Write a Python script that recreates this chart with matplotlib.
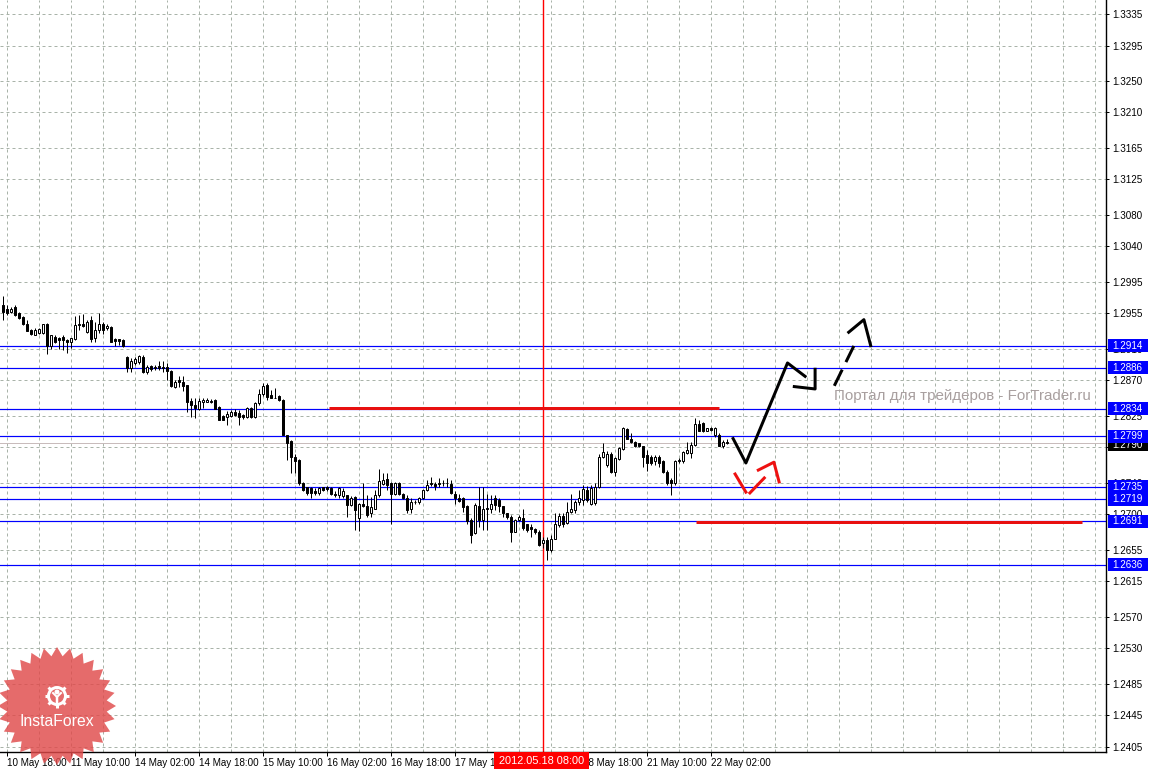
import numpy as np
import matplotlib
matplotlib.use("Agg")
import matplotlib.pyplot as plt
from matplotlib.patches import Rectangle, Polygon, Circle

plt.rcParams['font.family'] = ['Liberation Sans', 'DejaVu Sans']

# EURUSD H1, 10 May 17:00 .. 22 May 06:00 (bar index = position on the chart)
opens = [1.2966, 1.2961, 1.2957, 1.2963, 1.2956, 1.2950, 1.2942, 1.2934, 1.2928, 1.2930,
         1.2930, 1.2942, 1.2913, 1.2925, 1.2924, 1.2925, 1.2921, 1.2918, 1.2923, 1.2940,
         1.2941, 1.2931, 1.2946, 1.2924, 1.2934, 1.2942, 1.2936, 1.2938, 1.2922, 1.2922,
         1.2921, 1.2900, 1.2885, 1.2892, 1.2893, 1.2900, 1.2881, 1.2888, 1.2885, 1.2888,
         1.2887, 1.2887, 1.2882, 1.2862, 1.2870, 1.2868, 1.2864, 1.2844, 1.2838, 1.2834,
         1.2843, 1.2843, 1.2843, 1.2845, 1.2836, 1.2825, 1.2824, 1.2825, 1.2830, 1.2828,
         1.2826, 1.2823, 1.2835, 1.2823, 1.2841, 1.2852, 1.2864, 1.2851, 1.2848, 1.2850,
         1.2845, 1.2801, 1.2793, 1.2773, 1.2769, 1.2739, 1.2734, 1.2733, 1.2730, 1.2727,
         1.2734, 1.2734, 1.2733, 1.2726, 1.2725, 1.2723, 1.2724, 1.2712, 1.2722, 1.2695,
         1.2713, 1.2711, 1.2701, 1.2707, 1.2724, 1.2738, 1.2745, 1.2740, 1.2726, 1.2739,
         1.2726, 1.2721, 1.2706, 1.2715, 1.2715, 1.2720, 1.2731, 1.2740, 1.2738, 1.2738,
         1.2740, 1.2740, 1.2738, 1.2726, 1.2721, 1.2720, 1.2711, 1.2693, 1.2676, 1.2711,
         1.2693, 1.2708, 1.2706, 1.2720, 1.2718, 1.2710, 1.2701, 1.2697, 1.2678, 1.2693,
         1.2695, 1.2687, 1.2684, 1.2681, 1.2678, 1.2663, 1.2667, 1.2654, 1.2669, 1.2686,
         1.2698, 1.2689, 1.2703, 1.2705, 1.2715, 1.2718, 1.2731, 1.2713, 1.2714, 1.2734,
         1.2772, 1.2762, 1.2777, 1.2753, 1.2770, 1.2783, 1.2808, 1.2796, 1.2792, 1.2790,
         1.2786, 1.2775, 1.2773, 1.2767, 1.2773, 1.2768, 1.2753, 1.2743, 1.2739, 1.2767,
         1.2767, 1.2778, 1.2778, 1.2788, 1.2815, 1.2816, 1.2806, 1.2810, 1.2801, 1.2801,
         1.2786, 1.2792]
highs = [1.2977, 1.2965, 1.2963, 1.2965, 1.2957, 1.2951, 1.2946, 1.2935, 1.2936, 1.2937,
         1.2942, 1.2943, 1.2928, 1.2927, 1.2925, 1.2928, 1.2923, 1.2924, 1.2951, 1.2953,
         1.2954, 1.2946, 1.2951, 1.2944, 1.2955, 1.2944, 1.2941, 1.2939, 1.2924, 1.2923,
         1.2922, 1.2901, 1.2898, 1.2899, 1.2902, 1.2902, 1.2889, 1.2890, 1.2889, 1.2894,
         1.2894, 1.2892, 1.2883, 1.2870, 1.2875, 1.2875, 1.2864, 1.2848, 1.2848, 1.2847,
         1.2848, 1.2847, 1.2846, 1.2846, 1.2837, 1.2826, 1.2831, 1.2832, 1.2834, 1.2832,
         1.2827, 1.2836, 1.2836, 1.2842, 1.2859, 1.2867, 1.2866, 1.2858, 1.2860, 1.2851,
         1.2846, 1.2801, 1.2794, 1.2777, 1.2770, 1.2741, 1.2735, 1.2734, 1.2733, 1.2735,
         1.2735, 1.2736, 1.2735, 1.2729, 1.2734, 1.2733, 1.2725, 1.2723, 1.2723, 1.2714,
         1.2739, 1.2724, 1.2722, 1.2731, 1.2757, 1.2752, 1.2752, 1.2741, 1.2741, 1.2741,
         1.2727, 1.2724, 1.2720, 1.2718, 1.2722, 1.2732, 1.2744, 1.2747, 1.2741, 1.2746,
         1.2743, 1.2746, 1.2743, 1.2730, 1.2726, 1.2722, 1.2712, 1.2695, 1.2714, 1.2734,
         1.2734, 1.2726, 1.2725, 1.2725, 1.2720, 1.2711, 1.2702, 1.2699, 1.2694, 1.2699,
         1.2706, 1.2688, 1.2688, 1.2683, 1.2680, 1.2671, 1.2671, 1.2674, 1.2701, 1.2701,
         1.2701, 1.2716, 1.2726, 1.2718, 1.2731, 1.2737, 1.2736, 1.2737, 1.2740, 1.2777,
         1.2791, 1.2780, 1.2779, 1.2772, 1.2785, 1.2811, 1.2810, 1.2803, 1.2793, 1.2791,
         1.2786, 1.2782, 1.2775, 1.2775, 1.2775, 1.2769, 1.2756, 1.2746, 1.2769, 1.2771,
         1.2780, 1.2792, 1.2792, 1.2822, 1.2820, 1.2817, 1.2810, 1.2811, 1.2811, 1.2803,
         1.2794, 1.2795]
lows = [1.2947, 1.2953, 1.2955, 1.2952, 1.2948, 1.2940, 1.2932, 1.2928, 1.2927, 1.2929,
        1.2929, 1.2904, 1.2910, 1.2917, 1.2910, 1.2909, 1.2905, 1.2911, 1.2921, 1.2934,
        1.2938, 1.2930, 1.2918, 1.2918, 1.2930, 1.2929, 1.2934, 1.2918, 1.2913, 1.2915,
        1.2912, 1.2880, 1.2880, 1.2890, 1.2891, 1.2879, 1.2878, 1.2882, 1.2883, 1.2883,
        1.2881, 1.2871, 1.2862, 1.2860, 1.2862, 1.2856, 1.2830, 1.2824, 1.2822, 1.2832,
        1.2835, 1.2842, 1.2841, 1.2833, 1.2819, 1.2819, 1.2813, 1.2823, 1.2825, 1.2813,
        1.2821, 1.2822, 1.2822, 1.2822, 1.2839, 1.2850, 1.2845, 1.2847, 1.2847, 1.2844,
        1.2800, 1.2769, 1.2752, 1.2752, 1.2737, 1.2729, 1.2725, 1.2720, 1.2725, 1.2725,
        1.2729, 1.2730, 1.2725, 1.2722, 1.2720, 1.2721, 1.2697, 1.2710, 1.2680, 1.2679,
        1.2709, 1.2697, 1.2697, 1.2706, 1.2722, 1.2737, 1.2731, 1.2688, 1.2724, 1.2724,
        1.2719, 1.2701, 1.2701, 1.2713, 1.2713, 1.2719, 1.2729, 1.2736, 1.2731, 1.2734,
        1.2736, 1.2735, 1.2726, 1.2713, 1.2716, 1.2703, 1.2688, 1.2663, 1.2675, 1.2684,
        1.2680, 1.2680, 1.2701, 1.2705, 1.2703, 1.2697, 1.2694, 1.2665, 1.2677, 1.2691,
        1.2680, 1.2678, 1.2671, 1.2675, 1.2659, 1.2657, 1.2642, 1.2652, 1.2668, 1.2684,
        1.2684, 1.2688, 1.2701, 1.2701, 1.2712, 1.2712, 1.2716, 1.2712, 1.2712, 1.2733,
        1.2771, 1.2760, 1.2752, 1.2748, 1.2769, 1.2781, 1.2795, 1.2790, 1.2785, 1.2785,
        1.2760, 1.2755, 1.2763, 1.2763, 1.2760, 1.2752, 1.2737, 1.2724, 1.2737, 1.2765,
        1.2765, 1.2776, 1.2771, 1.2786, 1.2805, 1.2804, 1.2805, 1.2806, 1.2798, 1.2786,
        1.2784, 1.2789]
closes = [1.2957, 1.2956, 1.2960, 1.2953, 1.2949, 1.2941, 1.2933, 1.2929, 1.2934, 1.2935,
          1.2941, 1.2913, 1.2927, 1.2919, 1.2921, 1.2921, 1.2918, 1.2924, 1.2940, 1.2942,
          1.2939, 1.2944, 1.2923, 1.2934, 1.2942, 1.2934, 1.2939, 1.2919, 1.2920, 1.2920,
          1.2913, 1.2885, 1.2894, 1.2897, 1.2901, 1.2881, 1.2887, 1.2884, 1.2887, 1.2885,
          1.2885, 1.2882, 1.2863, 1.2868, 1.2868, 1.2863, 1.2843, 1.2838, 1.2835, 1.2844,
          1.2845, 1.2845, 1.2844, 1.2834, 1.2820, 1.2820, 1.2827, 1.2830, 1.2826, 1.2823,
          1.2823, 1.2835, 1.2823, 1.2841, 1.2853, 1.2863, 1.2849, 1.2848, 1.2847, 1.2845,
          1.2801, 1.2791, 1.2773, 1.2767, 1.2739, 1.2731, 1.2727, 1.2727, 1.2727, 1.2733,
          1.2731, 1.2732, 1.2726, 1.2725, 1.2733, 1.2730, 1.2712, 1.2721, 1.2705, 1.2713,
          1.2710, 1.2699, 1.2709, 1.2724, 1.2742, 1.2744, 1.2737, 1.2726, 1.2740, 1.2726,
          1.2720, 1.2705, 1.2715, 1.2716, 1.2720, 1.2731, 1.2737, 1.2738, 1.2736, 1.2740,
          1.2739, 1.2739, 1.2727, 1.2720, 1.2717, 1.2709, 1.2691, 1.2674, 1.2712, 1.2693,
          1.2707, 1.2706, 1.2713, 1.2712, 1.2710, 1.2701, 1.2696, 1.2678, 1.2693, 1.2697,
          1.2682, 1.2680, 1.2681, 1.2677, 1.2661, 1.2667, 1.2654, 1.2669, 1.2687, 1.2698,
          1.2688, 1.2703, 1.2707, 1.2716, 1.2721, 1.2732, 1.2718, 1.2733, 1.2734, 1.2772,
          1.2779, 1.2777, 1.2753, 1.2771, 1.2784, 1.2809, 1.2796, 1.2792, 1.2786, 1.2786,
          1.2772, 1.2765, 1.2765, 1.2773, 1.2765, 1.2753, 1.2739, 1.2739, 1.2768, 1.2769,
          1.2779, 1.2782, 1.2788, 1.2815, 1.2805, 1.2805, 1.2809, 1.2807, 1.2809, 1.2787,
          1.2792, 1.2790]

# time axis labels (every 16 bars, starting at bar 1)
time_labels = ['10 May 18:00', '11 May 10:00', '14 May 02:00', '14 May 18:00',
               '15 May 10:00', '16 May 02:00', '16 May 18:00', '17 May 10:00',
               '18 May 02:00', '18 May 18:00', '21 May 10:00', '22 May 02:00']
price_ticks = [1.3335, 1.3295, 1.3250, 1.3210, 1.3165, 1.3125, 1.3080, 1.3040, 1.2995,
               1.2955, 1.2910, 1.2870, 1.2825, 1.2785, 1.2740, 1.2700, 1.2655, 1.2615,
               1.2570, 1.2530, 1.2485, 1.2445, 1.2405]

# horizontal levels
blue_levels = [1.2914, 1.2886, 1.2834, 1.2799, 1.2735, 1.2719, 1.2691, 1.2636]
bid_price = 1.2790
marker_bar = 135
marker_label = '2012.05.18 08:00'

# red resistance / support segments: (bar_from, bar_to, price)
red_segments = [(81.6, 179.1, 1.2835), (173.3, 269.8, 1.2690)]

# forecast arrows (bar, price)
main_path = ([182.6, 185.8, 196.2, 200.6], [1.2796, 1.2765, 1.2892, 1.2875])
main_head = ([203.1, 203.1, 197.9], [1.2884, 1.2859, 1.2862])
dash_path = ([207.9, 213.5], [1.2863, 1.2921])
dash_head = ([211.5, 215.3, 217.0], [1.2931, 1.2947, 1.2914])
alt_path1 = ([183.1, 185.8], [1.2751, 1.2728])
alt_path2 = ([186.8, 190.4], [1.2727, 1.2746])
alt_head = ([188.9, 192.8, 194.1], [1.2756, 1.2766, 1.2741])

W, H = 1150, 769
fig = plt.figure(figsize=(W / 100, H / 100), dpi=100)
ax = fig.add_axes([0, 17 / H, 1106 / W, 752 / H])
ax.set_xlim(-0.675, 275.825)
ax.set_ylim(1.23981, 1.33528)

px = 0.72  # one pixel in points
grid_kw = dict(color='#a9b3a9', linestyle=(0, (3, 3)), linewidth=px)
fs = 7.1

# grid
ax.set_yticks(price_ticks)
ax.set_yticklabels([f'{p:.4f}' for p in price_ticks])
ax.set_xticks(np.arange(1, 1 + 16 * len(time_labels), 16))
ax.set_xticklabels(time_labels, ha='left')
ax.set_xticks(np.arange(1, 276, 8), minor=True)
ax.grid(True, which='both', **grid_kw)
ax.set_axisbelow(True)

ax.yaxis.tick_right()
ax.tick_params(axis='y', which='major', length=3 * px, width=px, pad=2.0, labelsize=fs)
ax.tick_params(axis='x', which='major', length=4 * px, width=px, pad=1.3, labelsize=fs)
ax.tick_params(axis='x', which='minor', length=0)
for s in ['top', 'left']:
    ax.spines[s].set_visible(False)
for s in ['right', 'bottom']:
    ax.spines[s].set_linewidth(1.4 * px)

# levels
for lv in blue_levels:
    ax.axhline(lv, color='#0000ff', lw=1.2 * px, zorder=2)
ax.axhline(bid_price, color='#c8bcbc', lw=px, zorder=1.5)
ax.axvline(marker_bar - 0.05, color='#ff0000', lw=1.4 * px, zorder=2)

# watermark
ax.text(207.8, 1.2850, 'Портал для трейдеров - ForTrader.ru', fontsize=10.9,
        color='#a89f9f', va='center', ha='left', zorder=2.5)

# candles
idx = np.arange(len(closes))
o = np.array(opens)
c = np.array(closes)
ax.vlines(idx, lows, highs, color='black', lw=px, zorder=3)
bull = c >= o
ax.bar(idx[bull], c[bull] - o[bull], bottom=o[bull], width=0.58, color='white',
       edgecolor='black', linewidth=px, zorder=4)
ax.bar(idx[~bull], o[~bull] - c[~bull], bottom=c[~bull], width=0.58, color='black',
       edgecolor='black', linewidth=px, zorder=4)

# red horizontal segments
for x0, x1, p in red_segments:
    ax.plot([x0, x1], [p, p], color='#e81010', lw=3 * px, solid_capstyle='butt', zorder=5)

# forecast arrows
lw_a = 3 * px
ax.plot(*main_path, color='black', lw=lw_a, zorder=6)
ax.plot(*main_head, color='black', lw=lw_a, zorder=6)
ax.plot(*dash_path, color='black', lw=lw_a, linestyle=(0, (6, 2.8)), zorder=6)
ax.plot(*dash_head, color='black', lw=lw_a, zorder=6)
for seg in (alt_path1, alt_path2, alt_head):
    ax.plot(*seg, color='#ee1111', lw=lw_a, zorder=6)

# price labels on the axis
ytr = ax.get_yaxis_transform()
box_h = 13 / 7877


def level_label(lv, text, fc, z):
    ax.add_patch(Rectangle((1 + 2 / 1106, lv - box_h / 2), 40 / 1106, box_h, transform=ytr,
                           facecolor=fc, edgecolor='none', clip_on=False, zorder=z))
    ax.text(1 + 6 / 1106, lv, text, transform=ytr, color='white', fontsize=fs,
            va='center', ha='left', clip_on=False, zorder=z + 0.5)


for lv in blue_levels:
    if lv != 1.2799:
        level_label(lv, f'{lv:.4f}', '#0000ff', 10)
level_label(bid_price - 0.0002, f'{bid_price:.4f}', 'black', 11)
level_label(1.2799, '1.2799', '#0000ff', 12)

# date marker label
xtr = ax.get_xaxis_transform()
ax.add_patch(Rectangle((marker_bar - 12.2, -17 / 752), 23.8, 17 / 752, transform=xtr,
                       facecolor='#ff0000', edgecolor='none', clip_on=False, zorder=10))
ax.text(marker_bar - 0.3, -8.5 / 752, marker_label, transform=xtr, color='white',
        fontsize=7.9, ha='center', va='center', clip_on=False, zorder=11)

# InstaForex badge
ov = fig.add_axes([0, 0, 1, 1], zorder=20)
ov.set_xlim(0, W)
ov.set_ylim(H, 0)
ov.axis('off')
cx, cy = 57, 706
n = 28
ang = np.linspace(0, 2 * np.pi, 2 * n, endpoint=False) - np.pi / 2
rad = np.where(np.arange(2 * n) % 2 == 0, 59, 50)
star = np.column_stack([cx + rad * np.cos(ang), cy + rad * np.sin(ang)])
ov.add_patch(Polygon(star, closed=True, facecolor='#e04a4a', edgecolor='none', alpha=0.82))
gx, gy = 57, 696
ov.add_patch(Circle((gx, gy), 8.5, facecolor='none', edgecolor='white', lw=3 * px))
for a in np.linspace(0, 2 * np.pi, 8, endpoint=False):
    if abs(np.sin(a) + 1) < 0.1:
        continue
    ov.plot([gx + 8 * np.cos(a), gx + 12 * np.cos(a)], [gy + 8 * np.sin(a), gy + 12 * np.sin(a)],
            color='white', lw=3 * px, solid_capstyle='butt')
ov.add_patch(Circle((gx, gy - 4), 1.8, color='white'))
ov.plot([gx - 4, gx, gx + 4], [gy - 3, gy + 1, gy - 3], color='white', lw=2 * px)
ov.plot([gx, gx], [gy + 1, gy + 9], color='white', lw=2.5 * px)
ov.text(cx, 722, 'InstaForex', color='white', fontsize=11.3, ha='center', va='center')

fig.savefig('out.png', dpi=100)
